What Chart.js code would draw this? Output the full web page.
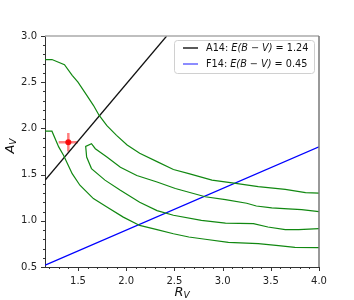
<!DOCTYPE html>
<html>
<head>
<meta charset="utf-8">
<script src="https://cdn.jsdelivr.net/npm/chart.js@4"></script>
<style>
  body { margin: 0; background: #fff; }
  #wrap { width: 354px; height: 300px; }
</style>
</head>
<body>
<div id="wrap"><canvas id="chart" width="354" height="300"></canvas></div>
<script>
// values

// extinction lines A_V vs R_V
const a14Rv = [1.16, 2.42];
const a14Av = [1.44, 3.0];
const f14Rv = [1.16, 4.0];
const f14Av = [0.52, 1.80];

// single measurement with error bars
const pointRv = 1.40;
const pointAv = 1.85;
const pointErrRv = 0.10;
const pointErrAv = 0.10;

// green contours
const outerTopRv = [1.16, 1.23, 1.36, 1.44, 1.50, 1.59, 1.66, 1.72, 1.80, 1.90, 2.01, 2.14, 2.32, 2.49, 2.65, 2.89, 3.10, 3.37, 3.65, 3.86, 4.0];
const outerTopAv = [2.745, 2.745, 2.69, 2.575, 2.50, 2.36, 2.25, 2.14, 2.03, 1.925, 1.82, 1.73, 1.64, 1.555, 1.51, 1.44, 1.41, 1.37, 1.34, 1.305, 1.30];

const outerBotRv = [1.16, 1.23, 1.30, 1.35, 1.44, 1.52, 1.66, 1.80, 1.97, 2.14, 2.32, 2.49, 2.65, 2.82, 3.06, 3.37, 3.58, 3.75, 4.0];
const outerBotAv = [1.97, 1.97, 1.80, 1.71, 1.51, 1.385, 1.24, 1.15, 1.04, 0.95, 0.905, 0.86, 0.825, 0.80, 0.767, 0.753, 0.732, 0.713, 0.71];

const innerRv = [4.0, 3.82, 3.68, 3.51, 3.35, 3.25, 3.03, 2.82, 2.51, 2.32, 2.11, 1.94, 1.80, 1.68, 1.64, 1.58, 1.59, 1.64, 1.78, 1.94, 2.14, 2.32, 2.49, 2.78, 3.03, 3.32, 3.47, 3.65, 3.79, 4.0];
const innerAv = [1.10, 1.12, 1.13, 1.14, 1.16, 1.19, 1.23, 1.26, 1.35, 1.42, 1.49, 1.58, 1.69, 1.78, 1.835, 1.805, 1.69, 1.565, 1.44, 1.33, 1.20, 1.11, 1.06, 1.005, 0.975, 0.97, 0.933, 0.905, 0.905, 0.915];

// axes
const xMin = 1.158, xMax = 4.0;
const yMin = 0.5, yMax = 3.0;
const xTicks = [1.5, 2.0, 2.5, 3.0, 3.5, 4.0];
const yTicks = [0.5, 1.0, 1.5, 2.0, 2.5, 3.0];

const a14Label = ['A14: ', 'E(B \u2212 V)', ' = 1.24'];
const f14Label = ['F14: ', 'E(B \u2212 V)', ' = 0.45'];

const FONT = "'DejaVu Sans', sans-serif";

function pts(xs, ys) {
  return xs.map((x, i) => ({ x: x, y: ys[i] }));
}

function lineSet(label, xs, ys, color, width) {
  return {
    label: label,
    data: pts(xs, ys),
    showLine: true,
    borderColor: color,
    borderWidth: width,
    pointRadius: 0,
    fill: false,
    tension: 0
  };
}

// ticks, spines, legend and axis titles
const decor = {
  id: 'decor',
  afterDraw(chart) {
    const c = chart.ctx;
    const a = chart.chartArea;
    const xs = chart.scales.x, ys = chart.scales.y;
    c.save();

    // tick marks (major every 0.5, minor every 0.1)
    c.strokeStyle = '#333';
    c.lineWidth = 1;
    c.beginPath();
    for (let i = 12; i <= 40; i++) {
      const px = Math.round(xs.getPixelForValue(i / 10)) + 0.5;
      const len = i % 5 === 0 ? 4 : 2;
      c.moveTo(px, a.bottom);
      c.lineTo(px, a.bottom + len);
    }
    for (let i = 5; i <= 30; i++) {
      const py = Math.round(ys.getPixelForValue(i / 10)) + 0.5;
      const len = i % 5 === 0 ? 4 : 2;
      c.moveTo(a.left, py);
      c.lineTo(a.left - len, py);
    }
    c.stroke();

    // top and right spines
    c.lineWidth = 1.5;
    c.strokeStyle = '#aaa';
    c.beginPath();
    c.moveTo(a.left, a.top);
    c.lineTo(a.right, a.top);
    c.stroke();
    c.strokeStyle = '#777';
    c.beginPath();
    c.moveTo(a.right, a.top);
    c.lineTo(a.right, a.bottom);
    c.stroke();

    // legend
    const bx = 174, by = 40, bw = 140, bh = 33;
    c.fillStyle = 'rgba(255,255,255,0.85)';
    c.strokeStyle = '#d0d0d0';
    c.lineWidth = 1;
    c.beginPath();
    c.roundRect(bx + 0.5, by + 0.5, bw, bh, 3);
    c.fill();
    c.stroke();
    const rows = [[a14Label, '#222'], [f14Label, '#6666ff']];
    rows.forEach((r, k) => {
      const y = by + 8 + k * 16;
      c.strokeStyle = r[1];
      c.lineWidth = 1.5;
      c.beginPath();
      c.moveTo(183, y);
      c.lineTo(198, y);
      c.stroke();
      let x = 206;
      c.fillStyle = '#111';
      c.textBaseline = 'middle';
      c.textAlign = 'left';
      r[0].forEach((part, j) => {
        c.font = (j === 1 ? 'italic ' : '') + '9.7px ' + FONT;
        c.fillText(part, x, y);
        x += c.measureText(part).width;
      });
    });

    // x title R_V
    c.fillStyle = '#111';
    c.textBaseline = 'alphabetic';
    c.font = 'italic 13px ' + FONT;
    const rW = c.measureText('R').width;
    c.font = 'italic 9px ' + FONT;
    const vW = c.measureText('V').width;
    const cx = (a.left + a.right) / 2 - (rW + vW) / 2;
    c.font = 'italic 13px ' + FONT;
    c.fillText('R', cx, 296);
    c.font = 'italic 9px ' + FONT;
    c.fillText('V', cx + rW, 298);

    // y title A_V (rotated)
    c.translate(13.5, 146);
    c.rotate(-Math.PI / 2);
    c.font = 'italic 13px ' + FONT;
    const aW = c.measureText('A').width;
    const tx = -(aW + vW) / 2;
    c.fillText('A', tx, 0);
    c.font = 'italic 9px ' + FONT;
    c.fillText('V', tx + aW, 2);
    c.restore();
  }
};

const ctx = document.getElementById('chart').getContext('2d');

new Chart(ctx, {
  type: 'scatter',
  data: {
    datasets: [
      lineSet('outer top', outerTopRv, outerTopAv, '#118811', 1.2),
      lineSet('outer bottom', outerBotRv, outerBotAv, '#118811', 1.2),
      lineSet('inner', innerRv, innerAv, '#118811', 1.2),
      lineSet(a14Label.join(''), a14Rv, a14Av, '#111', 1.3),
      lineSet(f14Label.join(''), f14Rv, f14Av, '#0000ff', 1.2),
      // error bars
      lineSet('err x', [pointRv - pointErrRv, pointRv + pointErrRv], [pointAv, pointAv], 'rgba(255,0,0,0.5)', 2.5),
      lineSet('err y', [pointRv, pointRv], [pointAv - pointErrAv, pointAv + pointErrAv], 'rgba(255,0,0,0.5)', 2.5),
      {
        label: 'point',
        data: [{ x: pointRv, y: pointAv }],
        pointRadius: 3,
        pointBackgroundColor: 'rgba(240,0,0,0.9)',
        pointBorderWidth: 0,
        showLine: false
      }
    ]
  },
  options: {
    responsive: false,
    animation: false,
    layout: { padding: { top: 36, right: 35, left: 0, bottom: 0 } },
    plugins: {
      legend: { display: false },
      tooltip: { enabled: false }
    },
    scales: {
      x: {
        type: 'linear',
        min: xMin,
        max: xMax,
        afterBuildTicks: s => { s.ticks = xTicks.map(v => ({ value: v })); },
        afterFit: s => { s.height = 33; },
        grid: { display: false, drawTicks: false },
        border: { display: true, color: '#333', width: 1 },
        ticks: {
          font: { family: FONT, size: 10 },
          color: '#222',
          padding: 8,
          maxRotation: 0,
          autoSkip: false,
          callback: v => v.toFixed(1)
        }
      },
      y: {
        type: 'linear',
        min: yMin,
        max: yMax,
        afterBuildTicks: s => { s.ticks = yTicks.map(v => ({ value: v })); },
        afterFit: s => { s.width = 45; },
        grid: { display: false, drawTicks: false },
        border: { display: true, color: '#333', width: 1 },
        ticks: {
          font: { family: FONT, size: 10 },
          color: '#222',
          padding: 8,
          autoSkip: false,
          callback: v => v.toFixed(1)
        }
      }
    }
  },
  plugins: [decor]
});
</script>
</body>
</html>
